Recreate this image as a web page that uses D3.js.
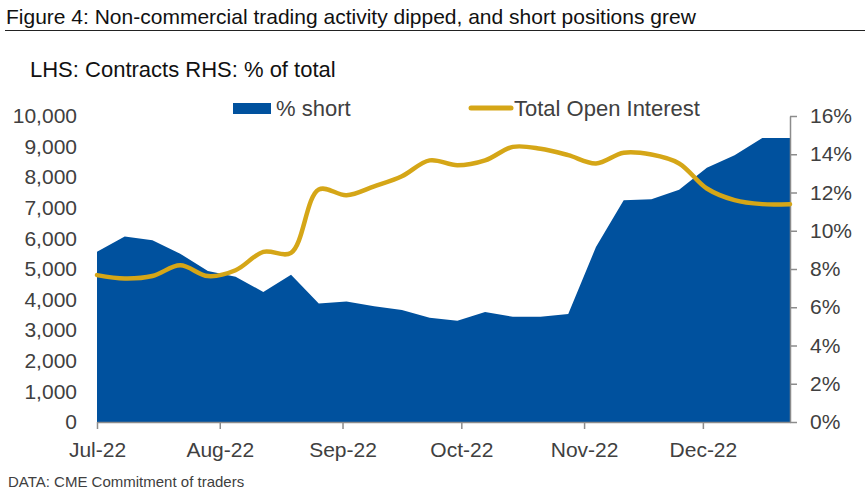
<!DOCTYPE html>
<html>
<head>
<meta charset="utf-8">
<script src="https://cdn.jsdelivr.net/npm/d3@7.9.0/dist/d3.min.js"></script>
<style>
  body { margin: 0; background: #fff; }
  svg { display: block; font-family: "Liberation Sans", Arial, sans-serif; }
</style>
</head>
<body>
<div id="chart"></div>
<script>
// --- Data (weekly CME Commitment of Traders readings) ---
const dates = [
  "2022-07-05", "2022-07-12", "2022-07-19", "2022-07-26",
  "2022-08-02", "2022-08-09", "2022-08-16", "2022-08-23", "2022-08-30",
  "2022-09-06", "2022-09-13", "2022-09-20", "2022-09-27",
  "2022-10-04", "2022-10-11", "2022-10-18", "2022-10-25",
  "2022-11-01", "2022-11-08", "2022-11-15", "2022-11-22", "2022-11-29",
  "2022-12-06", "2022-12-13", "2022-12-20", "2022-12-27"
];
// % short (RHS)
const pctShort = [
  8.9, 9.7, 9.5, 8.8, 7.9, 7.6, 6.8, 7.7, 6.2, 6.3, 6.05, 5.85, 5.45,
  5.3, 5.75, 5.5, 5.5, 5.65, 9.15, 11.6, 11.65, 12.15, 13.3, 13.95, 14.85, 14.85
];
// Total Open Interest (LHS, contracts)
const openInterest = [
  4800, 4690, 4770, 5120, 4770, 4960, 5560, 5530, 7600, 7410, 7700, 8030, 8550,
  8390, 8550, 8990, 8930, 8720, 8450, 8800, 8740, 8450, 7630, 7250, 7120, 7120
];
const leftTicks = d3.range(0, 10001, 1000);
const rightTicks = d3.range(0, 17, 2);

const TITLE = "Figure 4: Non-commercial trading activity dipped, and short positions grew";
const SUBTITLE = "LHS: Contracts RHS: % of total";
const SOURCE = "DATA: CME Commitment of traders";

// --- Setup ---
const W = 865, H = 497;
const X0 = 97, X1 = 790, Y0 = 422, Y1 = 116;
const BLUE = "#00519e";
const GOLD = "#d5a617";
const AXIS = "#8c8c8c";
const LABEL = "#404040";

const parse = d3.timeParse("%Y-%m-%d");
const data = dates.map((d, i) => ({ date: parse(d), pct: pctShort[i], oi: openInterest[i] }));

const x = d3.scaleTime()
  .domain(d3.extent(data, d => d.date))
  .range([X0, X1]);
const yL = d3.scaleLinear().domain([0, 10000]).range([Y0, Y1]);
const yR = d3.scaleLinear().domain([0, 16]).range([Y0, Y1]);

const svg = d3.select("#chart").append("svg").attr("width", W).attr("height", H);

// Title + rule
svg.append("text").attr("x", 6).attr("y", 24)
  .attr("font-size", 21).attr("fill", "#111").text(TITLE);
svg.append("line").attr("x1", 5).attr("x2", W).attr("y1", 30.5).attr("y2", 30.5)
  .attr("stroke", "#222").attr("stroke-width", 1);

svg.append("text").attr("x", 30).attr("y", 77)
  .attr("font-size", 22).attr("fill", "#111").text(SUBTITLE);

// Area: % short on the right scale
svg.append("path")
  .datum(data)
  .attr("fill", BLUE)
  .attr("d", d3.area().x(d => x(d.date)).y0(Y0).y1(d => yR(d.pct)));

// Bottom axis
const monthTicks = d3.range(6).map(i => d3.timeMonth.offset(data[0].date, i));
const xAxis = svg.append("g")
  .attr("transform", `translate(0,${Y0})`)
  .call(d3.axisBottom(x).tickValues(monthTicks).tickFormat(d3.timeFormat("%b-%y"))
    .tickSizeInner(7).tickSizeOuter(0).tickPadding(13));
xAxis.select(".domain").attr("stroke", AXIS).attr("stroke-width", 1.5);
xAxis.selectAll(".tick line").attr("stroke", AXIS).attr("stroke-width", 1.5);
xAxis.selectAll(".tick text").attr("font-size", 21).attr("fill", LABEL)
  .attr("font-family", "Liberation Sans, Arial, sans-serif");

// Left axis (labels only)
const lAxis = svg.append("g")
  .attr("transform", `translate(${X0},0)`)
  .call(d3.axisLeft(yL).tickValues(leftTicks).tickFormat(d3.format(",")).tickSize(0).tickPadding(20));
lAxis.select(".domain").remove();
lAxis.selectAll(".tick text").attr("font-size", 21).attr("fill", LABEL)
  .attr("font-family", "Liberation Sans, Arial, sans-serif");

// Right axis
const rAxis = svg.append("g")
  .attr("transform", `translate(${X1},0)`)
  .call(d3.axisRight(yR).tickValues(rightTicks).tickFormat(d => d + "%")
    .tickSizeInner(7).tickSizeOuter(0).tickPadding(13));
rAxis.select(".domain").attr("stroke", AXIS).attr("stroke-width", 1.5);
rAxis.selectAll(".tick line").attr("stroke", AXIS).attr("stroke-width", 1.5);
rAxis.selectAll(".tick text").attr("font-size", 21).attr("fill", LABEL)
  .attr("font-family", "Liberation Sans, Arial, sans-serif");

// Line: open interest on the left scale
svg.append("path")
  .datum(data)
  .attr("fill", "none")
  .attr("stroke", GOLD)
  .attr("stroke-width", 4.5)
  .attr("stroke-linejoin", "round")
  .attr("stroke-linecap", "round")
  .attr("d", d3.line().curve(d3.curveCatmullRom.alpha(0.5)).x(d => x(d.date)).y(d => yL(d.oi)));

// Legend
const leg = svg.append("g");
leg.append("rect").attr("x", 233).attr("y", 103).attr("width", 38).attr("height", 11).attr("fill", BLUE);
leg.append("text").attr("x", 276).attr("y", 116).attr("font-size", 22).attr("fill", LABEL).text("% short");
leg.append("line").attr("x1", 471).attr("x2", 511).attr("y1", 108).attr("y2", 108)
  .attr("stroke", GOLD).attr("stroke-width", 5).attr("stroke-linecap", "round");
leg.append("text").attr("x", 514).attr("y", 116).attr("font-size", 22).attr("fill", LABEL).text("Total Open Interest");

// Source
svg.append("text").attr("x", 8).attr("y", 487)
  .attr("font-size", 15).attr("fill", LABEL).text(SOURCE);
</script>
</body>
</html>
